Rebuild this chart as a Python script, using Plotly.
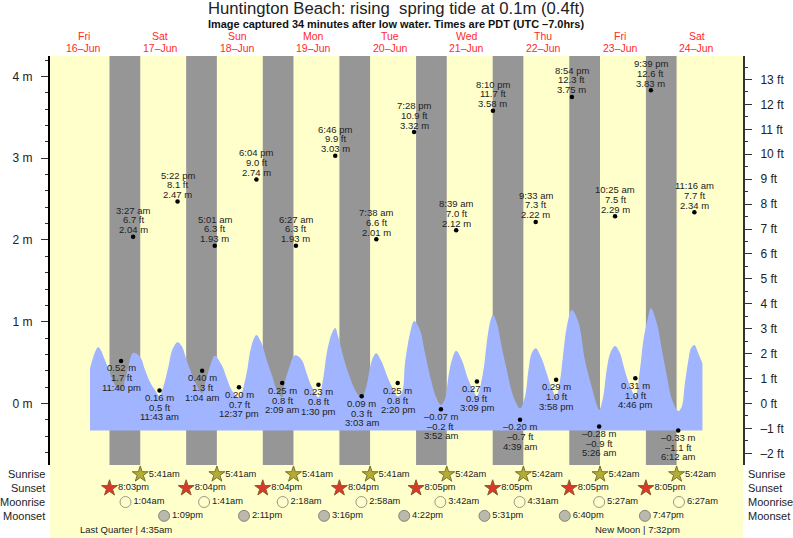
import plotly.graph_objects as go
import pandas as pd

# ---------- data ----------
START = pd.Timestamp("2023-06-16 00:00")
def hrs(stamp):
    return (pd.Timestamp("2023-" + stamp) - START).total_seconds() / 3600

extreme_times = ["06-16 23:40","06-17 03:27","06-17 11:43","06-17 17:22","06-18 01:04","06-18 05:01",
                 "06-18 12:37","06-18 18:04","06-19 02:09","06-19 06:27","06-19 13:30","06-19 18:46",
                 "06-20 03:03","06-20 07:38","06-20 14:20","06-20 19:28","06-21 03:52","06-21 08:39",
                 "06-21 15:09","06-21 20:10","06-22 04:39","06-22 09:33","06-22 15:58","06-22 20:54",
                 "06-23 05:26","06-23 10:25","06-23 16:46","06-23 21:39","06-24 06:12","06-24 11:16"]
extreme_m = [0.52,2.04,0.16,2.47,0.40,1.93,0.20,2.74,0.25,1.93,0.23,3.03,0.09,2.01,0.25,3.32,-0.07,2.12,
             0.27,3.58,-0.20,2.22,0.29,3.75,-0.28,2.29,0.31,3.83,-0.33,2.34]
label_m = ["0.52 m","2.04 m","0.16 m","2.47 m","0.40 m","1.93 m","0.20 m","2.74 m","0.25 m","1.93 m",
           "0.23 m","3.03 m","0.09 m","2.01 m","0.25 m","3.32 m","–0.07 m","2.12 m","0.27 m","3.58 m",
           "–0.20 m","2.22 m","0.29 m","3.75 m","–0.28 m","2.29 m","0.31 m","3.83 m","–0.33 m","2.34 m"]
label_ft = ["1.7 ft","6.7 ft","0.5 ft","8.1 ft","1.3 ft","6.3 ft","0.7 ft","9.0 ft","0.8 ft","6.3 ft",
            "0.8 ft","9.9 ft","0.3 ft","6.6 ft","0.8 ft","10.9 ft","–0.2 ft","7.0 ft","0.9 ft","11.7 ft",
            "–0.7 ft","7.3 ft","1.0 ft","12.3 ft","–0.9 ft","7.5 ft","1.0 ft","12.6 ft","–1.1 ft","7.7 ft"]
label_time = ["11:40 pm","3:27 am","11:43 am","5:22 pm","1:04 am","5:01 am","12:37 pm","6:04 pm","2:09 am",
              "6:27 am","1:30 pm","6:46 pm","3:03 am","7:38 am","2:20 pm","7:28 pm","3:52 am","8:39 am",
              "3:09 pm","8:10 pm","4:39 am","9:33 am","3:58 pm","8:54 pm","5:26 am","10:25 am","4:46 pm",
              "9:39 pm","6:12 am","11:16 am"]

# blue tide curve (hours after 16-Jun 00:00, metres)
curve_hours = [13.94,16.54,18.64,20.2,21.77,23.67,24.9,25.94,27.45,29.6,31.2,32.7,34.3,35.72,36.9,38.5,39.7,41.37,
               42.7,44.2,45.8,47.4,49.07,50,51.5,53.02,55.2,56.8,58.3,60.62,63,64,65.1,66.07,67.7,69.3,70.9,72.9,
               74.15,75,76.6,77.6,78.45,80.3,81.8,83.4,85.5,87,88.1,89.7,90.77,91.7,93.3,94.9,97,99.05,100.6,101.7,
               102.7,103.63,105.3,106.9,108.5,110.33,111.6,112.6,113.2,114.2,115.47,117.3,118.9,120.5,122.5,123.87,
               125.2,126.2,127.3,128.65,130.4,132.5,134,135.15,137.2,138.2,139.3,140.17,141.4,142.9,144.5,146.6,
               148.65,150.2,151.3,152.3,153.55,155.4,157,158.6,159.97,161.2,162.2,163.3,164.9,166.9,169,171.1,172.7,
               173.43,174.7,175.8,176.9,178.42,180,181,182.6,184.77,186.2,187.3,188.7,189.65,191.5,193.1,194.7,
               196.3,198.2,199.3,200.3,201.4,202.2,203.27,204.5,205.8]
curve_m = [0.43,0.687,0.532,0.37,0.226,0.155,0.287,0.45,0.62,0.572,0.41,0.267,0.165,0.09,0.205,0.45,0.654,0.75,
           0.70,0.53,0.36,0.22,0.125,0.247,0.45,0.585,0.47,0.308,0.165,0.075,0.37,0.614,0.777,0.838,0.736,0.532,
           0.349,0.125,0.08,0.267,0.47,0.572,0.59,0.532,0.37,0.205,0.075,0.31,0.614,0.859,0.924,0.817,0.572,0.37,
           0.165,0.064,0.226,0.45,0.572,0.614,0.51,0.349,0.205,0.09,0.125,0.49,0.654,0.859,1.009,0.9,0.614,0.328,
           0.064,-0.018,0.064,0.328,0.532,0.646,0.532,0.287,0.165,0.09,0.41,0.736,1.0,1.086,0.981,0.695,0.41,0.083,
           -0.059,0.083,0.41,0.614,0.675,0.553,0.37,0.186,0.09,0.287,0.614,0.94,1.145,1.0,0.53,0.205,-0.018,
           -0.08,0.083,0.41,0.614,0.703,0.614,0.47,0.267,0.095,0.41,0.777,1.042,1.167,0.981,0.654,0.328,
           0.043,-0.092,-0.04,0.247,0.532,0.675,0.716,0.614,0.49]
curve_base_m = -0.33

sunset_times = ["06-16 20:03","06-17 20:04","06-18 20:04","06-19 20:04","06-20 20:05","06-21 20:05","06-22 20:05","06-23 20:05"]
sunset_text = ["8:03pm","8:04pm","8:04pm","8:04pm","8:05pm","8:05pm","8:05pm","8:05pm"]
sunrise_times = ["06-17 05:41","06-18 05:41","06-19 05:41","06-20 05:41","06-21 05:42","06-22 05:42","06-23 05:42","06-24 05:42"]
sunrise_text = ["5:41am","5:41am","5:41am","5:41am","5:42am","5:42am","5:42am","5:42am"]
moonrise_times = ["06-17 01:04","06-18 01:41","06-19 02:18","06-20 02:58","06-21 03:42","06-22 04:31","06-23 05:27","06-24 06:27"]
moonrise_text = ["1:04am","1:41am","2:18am","2:58am","3:42am","4:31am","5:27am","6:27am"]
moonset_times = ["06-17 13:09","06-18 14:11","06-19 15:16","06-20 16:22","06-21 17:31","06-22 18:40","06-23 19:47"]
moonset_text = ["1:09pm","2:11pm","3:16pm","4:22pm","5:31pm","6:40pm","7:47pm"]
moon_phase_times = ["06-17 04:35","06-23 19:32"]
moon_phase_text = ["Last Quarter | 4:35am","New Moon | 7:32pm"]

day_noons = ["06-16 12:00","06-17 12:00","06-18 12:00","06-19 12:00","06-20 12:00","06-21 12:00","06-22 12:00","06-23 12:00","06-24 12:00"]
day_names = ["Fri","Sat","Sun","Mon","Tue","Wed","Thu","Fri","Sat"]
day_dates = ["16–Jun","17–Jun","18–Jun","19–Jun","20–Jun","21–Jun","22–Jun","23–Jun","24–Jun"]

row_names = ["Sunrise","Sunset","Moonrise","Moonset"]
m_ticks = [0,1,2,3,4]
m_labels = ["0 m","1 m","2 m","3 m","4 m"]
ft_ticks = list(range(-2,14))
ft_labels = ["–2 ft","–1 ft"] + [f"{i} ft" for i in range(0,14)]

TITLE = "Huntington Beach: rising  spring tide at 0.1m (0.4ft)"
SUBTITLE = "Image captured 34 minutes after low water. Times are PDT (UTC –7.0hrs)"

# ---------- layout constants ----------
W, H = 793, 538
FONT = "Liberation Sans"
Y_RANGE = [-0.752, 4.25]
X_RANGE = [1.41, 218.5]
TXT = "#222222"
def py(p):  # pixel row -> paper fraction
    return (H - p) / H

fig = go.Figure()

# tide fill
fig.add_trace(go.Scatter(x=[curve_hours[0], curve_hours[-1]], y=[curve_base_m, curve_base_m], mode="lines",
                         line=dict(width=0), hoverinfo="skip", showlegend=False))
fig.add_trace(go.Scatter(x=curve_hours, y=curve_m, mode="lines", line=dict(width=0, shape="spline", smoothing=1.0),
                         fill="tonexty", fillcolor="#A0B4FF", hoverinfo="skip", showlegend=False))
# extremes dots
ex_h = [hrs(t) for t in extreme_times]
fig.add_trace(go.Scatter(x=ex_h, y=extreme_m, mode="markers", marker=dict(color="black", size=4.5), showlegend=False))
# invisible trace so the feet axis is drawn
fig.add_trace(go.Scatter(x=[ex_h[0]], y=[extreme_m[0] / 0.3048], yaxis="y2", mode="markers",
                         marker=dict(opacity=0), hoverinfo="skip", showlegend=False))

# almanac rows
def row(times, texts, r, marker):
    fig.add_trace(go.Scatter(x=[hrs(t) for t in times], y=[r] * len(times), yaxis="y3", mode="markers+text",
                             text=texts, textposition="middle right",
                             textfont=dict(family=FONT, size=9.3, color=TXT), marker=marker,
                             cliponaxis=False, showlegend=False))
row(sunrise_times, sunrise_text, 0, dict(symbol="star", size=12, color="#B5AC35", line=dict(color="#77732A", width=1)))
row(sunset_times, sunset_text, 1, dict(symbol="star", size=12, color="#D8392B", line=dict(color="#8A5A2A", width=1)))
row(moonrise_times, moonrise_text, 2, dict(symbol="circle", size=11, color="#FFFFCC", line=dict(color="#99998A", width=1)))
row(moonset_times, moonset_text, 3, dict(symbol="circle", size=11, color="#BBB8AC", line=dict(color="#85857C", width=1)))

# night bands
for a, b in zip(sunset_times, sunrise_times):
    fig.add_shape(type="rect", xref="x", yref="y", x0=hrs(a), x1=hrs(b), y0=Y_RANGE[0], y1=Y_RANGE[1],
                  fillcolor="#969696", line=dict(width=0), layer="below")

ann = []
def note(text, x, y, size=9.5, color=TXT, xref="paper", yref="paper", yshift=0, xshift=0, xanchor="center"):
    ann.append(dict(text=text, x=x, y=y, xref=xref, yref=yref, yshift=yshift, xshift=xshift, xanchor=xanchor,
                    yanchor="middle", showarrow=False, borderpad=0, font=dict(family=FONT, size=size, color=color)))

# point labels: highs above the dot, lows below
for i, h in enumerate(ex_h):
    sign = 1 if extreme_m[i] > 1 else -1
    note(label_m[i], h, extreme_m[i], xref="x", yref="y", yshift=sign * 7)
    note(label_ft[i], h, extreme_m[i], xref="x", yref="y", yshift=sign * 17)
    note(label_time[i], h, extreme_m[i], xref="x", yref="y", yshift=sign * 26.5)

note(TITLE, 396 / W, py(8), size=16.7, color="#222222")
note("<b>" + SUBTITLE + "</b>", 396 / W, py(24), size=10.95, color="#111111")
for n, name, date in zip(day_noons, day_names, day_dates):
    note(name, hrs(n), py(36), size=10.5, color="#FF2A2A", xref="x")
    note(date, hrs(n), py(48), size=10.5, color="#FF2A2A", xref="x")

for r, name in enumerate(row_names):
    note(name, 46 / W, r, size=11, xref="paper", yref="y3", xanchor="right")
    note(name, 747 / W, r, size=11, xref="paper", yref="y3", xanchor="left")
for t, s, shift in zip(moon_phase_times, moon_phase_text, [-10.5, -7]):
    note(s, hrs(t), 4, size=9.5, xref="x", yref="y3", xshift=shift)

fig.update_layout(
    width=W, height=H, margin=dict(l=0, r=0, t=0, b=0), autosize=False,
    paper_bgcolor="white", plot_bgcolor="#FFFFCC", showlegend=False, annotations=ann,
    font=dict(family=FONT, color=TXT),
    xaxis=dict(domain=[50 / W, 743 / W], range=X_RANGE, visible=False, fixedrange=True, anchor="y"),
    yaxis=dict(domain=[py(465), py(56)], range=Y_RANGE, tickmode="array", tickvals=m_ticks, ticktext=m_labels,
               ticks="outside", ticklen=7, tickcolor="#333333", tickwidth=1, showgrid=False, zeroline=False,
               showline=True, linecolor="black", linewidth=2, tickfont=dict(family=FONT, size=12, color=TXT),
               ticklabelstandoff=6, anchor="x",
               minor=dict(tick0=0, dtick=0.2, ticks="outside", ticklen=3, tickcolor="#333333", tickwidth=1, showgrid=False)),
    yaxis2=dict(domain=[py(465), py(56)], overlaying="y", side="right", anchor="x",
                range=[Y_RANGE[0] / 0.3048, Y_RANGE[1] / 0.3048], tickmode="array", tickvals=ft_ticks, ticktext=ft_labels,
                ticks="outside", ticklen=7, tickcolor="#333333", tickwidth=1, showgrid=False, zeroline=False,
                showline=True, linecolor="#333333", linewidth=2, tickfont=dict(family=FONT, size=12, color=TXT),
                ticklabelstandoff=6,
                minor=dict(tick0=0, dtick=0.5, ticks="outside", ticklen=3, tickcolor="#333333", tickwidth=1, showgrid=False)),
    yaxis3=dict(domain=[0, py(465)], range=[4.6, -0.674], visible=False, fixedrange=True, anchor="x"),
)

fig.write_html("out.html", config=dict(displayModeBar=False),
               post_script="document.body.style.margin='0';document.documentElement.style.overflow='hidden';")
